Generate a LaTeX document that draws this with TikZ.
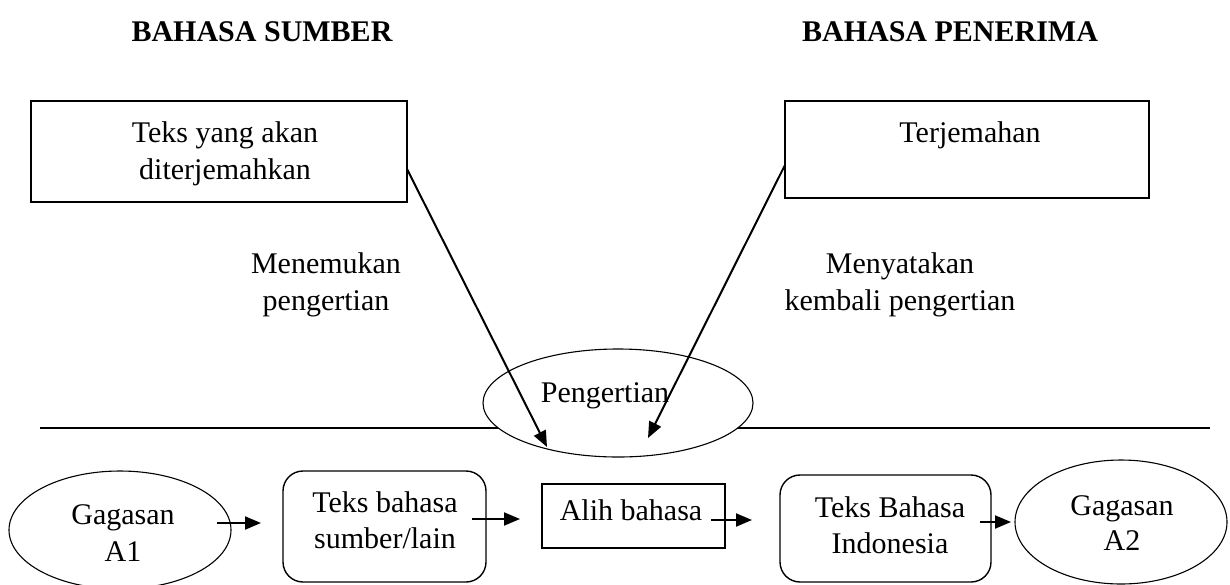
\documentclass[tikz,border=0pt]{standalone}
\usepackage{fontspec}
\setmainfont{Liberation Serif}
\usetikzlibrary{arrows.meta,shapes.geometric}
\begin{document}
\begin{tikzpicture}[x=0.5pt,y=-0.5pt,
  txt/.style={font=\fontsize{15pt}{18.5pt}\selectfont, anchor=base, inner sep=0pt, outer sep=0pt},
  ttl/.style={font=\fontsize{15pt}{18.5pt}\selectfont\bfseries, anchor=base, inner sep=0pt, outer sep=0pt},
  box/.style={draw, line width=0.7pt, inner sep=0pt, outer sep=0pt, fill=white},
  rbox/.style={box, rounded corners=10pt},
  ell/.style={draw, ellipse, line width=0.55pt, inner sep=0pt, outer sep=0pt, fill=white},
  arr/.style={line width=1pt, -{Triangle[length=8pt,width=6.5pt]}},
]
\useasboundingbox (0,0) rectangle (1230,584);
% titles
\node[ttl] (ts) at (262,41) {BAHASA SUMBER};
\node[ttl] (tp) at (950,41) {BAHASA PENERIMA};
% horizontal line
\coordinate (hl) at (40,428);
\coordinate (hr) at (1210,428);
\draw[line width=1pt] (hl) -- (hr);
% top boxes
\node[box, minimum width=188pt, minimum height=50.5pt] (tl) at (219,151.5) {};
\node[txt] (tl1) at (225,142) {Teks yang akan};
\node[txt] (tl2) at (225,179) {diterjemahkan};
\node[box, minimum width=182pt, minimum height=48.5pt] (tr) at (967,149.5) {};
\node[txt] (trt) at (970,142) {Terjemahan};
% side labels
\node[txt] (m1) at (326,273) {Menemukan};
\node[txt] (m2) at (326,310) {pengertian};
\node[txt] (k1) at (900,273) {Menyatakan};
\node[txt] (k2) at (900,310) {kembali pengertian};
% Pengertian
\node[ell, minimum width=135pt, minimum height=54pt] (pe) at (618,403) {};
\node[txt] (pet) at (605,402) {Pengertian};
% diagonal arrows
\coordinate (s1) at (407,169);
\coordinate (e1) at (547,447);
\coordinate (s2) at (785,165);
\coordinate (e2) at (648,438);
\draw[arr] (s1) -- (e1);
\draw[arr] (s2) -- (e2);
% bottom row
\node[ell, minimum width=111pt, minimum height=59pt] (ga1) at (120,530) {};
\node[txt] (ga1a) at (123,524) {Gagasan};
\node[txt] (ga1b) at (123,561) {A1};
\node[rbox, minimum width=101.5pt, minimum height=55.5pt] (r1) at (384.5,526.5) {};
\node[txt] (r1a) at (385,512) {Teks bahasa};
\node[txt] (r1b) at (385,548) {sumber/lain};
\node[box, minimum width=91.5pt, minimum height=32pt] (al) at (633.5,516) {};
\node[txt] (alt) at (631,520) {Alih bahasa};
\node[rbox, minimum width=105.5pt, minimum height=53.5pt] (r2) at (885.5,528.5) {};
\node[txt] (r2a) at (890,517) {Teks Bahasa};
\node[txt] (r2b) at (890,553) {Indonesia};
\node[ell, minimum width=106pt, minimum height=62pt] (ga2) at (1121,522) {};
\node[txt] (ga2a) at (1122,515) {Gagasan};
\node[txt] (ga2b) at (1122,550) {A2};
% bottom arrows
\coordinate (b1s) at (217,523); \coordinate (b1e) at (261,523);
\coordinate (b2s) at (472,519); \coordinate (b2e) at (520,519);
\coordinate (b3s) at (711,520); \coordinate (b3e) at (752,520);
\coordinate (b4s) at (980,522); \coordinate (b4e) at (1011,522);
\draw[arr] (b1s) -- (b1e);
\draw[arr] (b2s) -- (b2e);
\draw[arr] (b3s) -- (b3e);
\draw[arr] (b4s) -- (b4e);
\end{tikzpicture}
\end{document}
